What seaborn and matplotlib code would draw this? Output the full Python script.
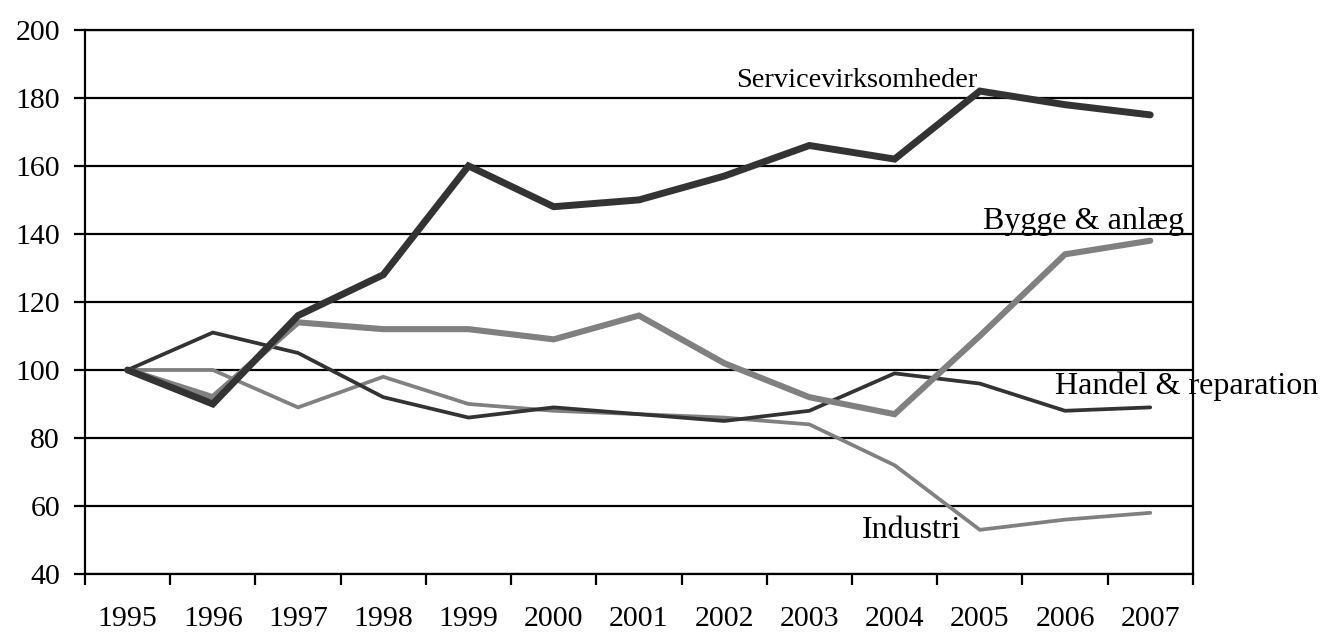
import matplotlib
matplotlib.use("Agg")
import matplotlib.pyplot as plt
import seaborn as sns
import pandas as pd
import numpy as np

years = ["1995", "1996", "1997", "1998", "1999", "2000", "2001",
         "2002", "2003", "2004", "2005", "2006", "2007"]
service = [100, 90, 116, 128, 160, 148, 150, 157, 166, 162, 182, 178, 175]
bygge = [100, 92, 114, 112, 112, 109, 116, 102, 92, 87, 110, 134, 138]
handel = [100, 111, 105, 92, 86, 89, 87, 85, 88, 99, 96, 88, 89]
industri = [100, 100, 89, 98, 90, 88, 87, 86, 84, 72, 53, 56, 58]

sns.set_theme(style="white")
plt.rcParams["font.family"] = ["Liberation Serif", "DejaVu Serif"]

fig = plt.figure(figsize=(13.22, 6.35), dpi=100)
ax = fig.add_axes([0.0643, 0.096, 0.838, 0.857])

pos = np.arange(len(years))
series = [
    ("Industri", industri, "#808080", 2.7),
    ("Handel", handel, "#333333", 2.7),
    ("Bygge", bygge, "#808080", 4.4),
    ("Service", service, "#333333", 5.0),
]
for name, vals, col, lw in series:
    df = pd.DataFrame({"x": pos, "y": vals})
    sns.lineplot(data=df, x="x", y="y", ax=ax, color=col, linewidth=lw,
                 solid_capstyle="round", solid_joinstyle="miter", legend=False)

ax.set_xlim(-0.5, len(years) - 0.5)
ax.set_ylim(40, 200)
ax.set_yticks(np.arange(40, 201, 20))
ax.yaxis.grid(True, color="black", linewidth=1.6)
ax.set_axisbelow(True)
ax.set_xlabel("")
ax.set_ylabel("")

ax.set_xticks(np.arange(-0.5, len(years), 1.0))
ax.set_xticklabels([])
ax.set_xticks(pos, minor=True)
ax.set_xticklabels(years, minor=True)
ax.tick_params(axis="x", which="major", direction="out", length=8, width=1.6,
               color="black", bottom=True)
ax.tick_params(axis="x", which="minor", length=0, pad=23, labelsize=21.5,
               labelcolor="black")
ax.tick_params(axis="y", direction="out", length=8, width=1.6, color="black",
               left=True, labelsize=21.5, labelcolor="black", pad=10)

for s in ax.spines.values():
    s.set_color("black")
    s.set_linewidth(1.6)
    s.set_zorder(5)

ax.text(8.56, 183.2, "Servicevirksomheder", ha="center", va="baseline",
        fontsize=20.4, color="black")
ax.text(11.22, 141.5, "Bygge & anlæg", ha="center", va="baseline",
        fontsize=23, color="black")
ax.text(12.43, 92.9, "Handel & reparation", ha="center", va="baseline",
        fontsize=23, color="black", clip_on=False)
ax.text(9.2, 50.6, "Industri", ha="center", va="baseline",
        fontsize=23, color="black")

fig.savefig("out.png", dpi=100, facecolor="white")
